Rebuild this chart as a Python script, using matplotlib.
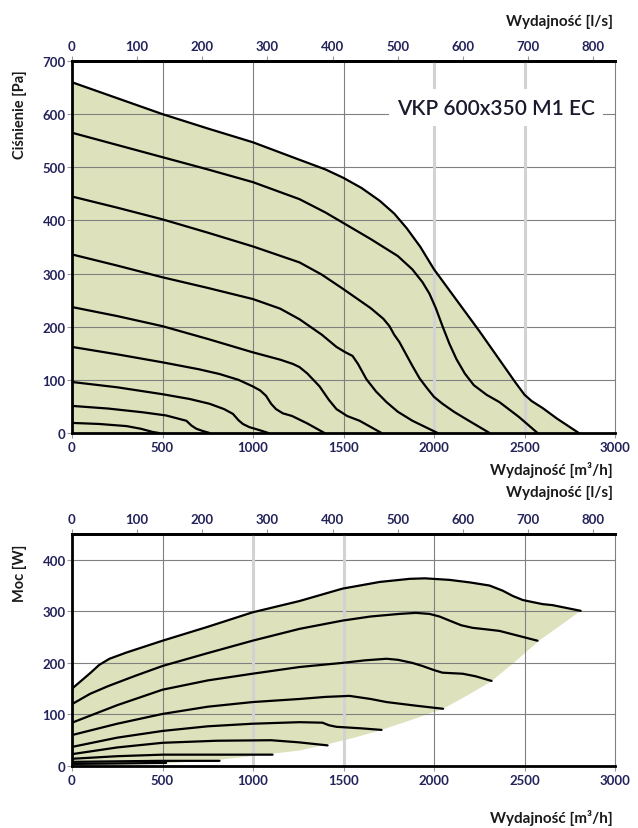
import matplotlib
matplotlib.use('Agg')
import matplotlib.pyplot as plt

plt.rcParams['font.family'] = ['Lato', 'DejaVu Sans']

# --- pressure curves [Pa] vs airflow [m3/h], top to bottom
p1_x = [0, 250, 500, 750, 1000, 1250, 1400, 1500, 1600, 1700, 1780, 1850, 1925, 2000,
        2250, 2450, 2500, 2540, 2600, 2680, 2800]
p1_y = [660, 630, 600, 573, 547, 515, 496, 480, 461, 437, 413, 385, 350, 308,
        192, 95, 72, 60, 47, 27, 0]
p2_x = [0, 250, 500, 750, 1000, 1257, 1400, 1500, 1650, 1800, 1880, 1936, 1975, 2010,
        2047, 2085, 2124, 2170, 2220, 2290, 2362, 2470, 2572]
p2_y = [565, 542, 519, 496, 472, 440, 415, 395, 365, 333, 308, 284, 262, 235,
        201, 168, 139, 112, 90, 72, 58, 30, 0]
p3_x = [0, 250, 500, 750, 1000, 1257, 1380, 1494, 1650, 1720, 1754, 1780, 1809, 1881,
        1920, 1960, 2000, 2047, 2110, 2178, 2307]
p3_y = [445, 424, 402, 377, 351, 321, 298, 272, 235, 215, 201, 185, 171, 126,
        103, 85, 68, 55, 40, 26, 0]
p4_x = [0, 250, 500, 750, 1000, 1150, 1257, 1380, 1461, 1510, 1550, 1580, 1627, 1680,
        1738, 1800, 1881, 2020]
p4_y = [336, 315, 293, 273, 252, 234, 214, 185, 162, 152, 145, 130, 101, 78,
        58, 40, 23, 0]
p5_x = [0, 250, 500, 750, 997, 1150, 1220, 1257, 1300, 1367, 1420, 1461, 1520, 1589, 1710]
p5_y = [237, 220, 201, 177, 152, 138, 130, 124, 112, 88, 62, 45, 32, 23, 0]
p6_x = [0, 250, 500, 700, 815, 920, 997, 1040, 1072, 1100, 1127, 1165, 1216, 1300, 1395]
p6_y = [162, 148, 133, 120, 111, 100, 88, 80, 70, 55, 45, 37, 32, 18, 0]
p7_x = [0, 250, 500, 650, 760, 840, 889, 920, 944, 980, 1030, 1085]
p7_y = [96, 86, 73, 64, 55, 45, 36, 24, 17, 11, 6, 0]
p8_x = [0, 200, 390, 520, 632, 660, 687, 720, 760]
p8_y = [51, 46, 39, 33, 23, 14, 8, 4, 0]
p9_x = [0, 150, 301, 380, 445, 480]
p9_y = [19, 17, 13, 8, 2, 0]

# --- power curves [W] vs airflow [m3/h], top to bottom
w1_x = [0, 50, 100, 150, 207, 300, 500, 750, 997, 1257, 1494, 1700, 1865, 1950, 2086,
        2200, 2307, 2380, 2434, 2490, 2544, 2600, 2655, 2810]
w1_y = [150, 165, 180, 196, 208, 220, 243, 270, 298, 320, 344, 357, 363, 364, 361,
        356, 350, 340, 330, 322, 318, 314, 312, 301]
w2_x = [0, 100, 200, 350, 500, 750, 997, 1257, 1494, 1650, 1809, 1900, 1975, 2030, 2086,
        2150, 2213, 2290, 2362, 2572]
w2_y = [120, 140, 155, 175, 194, 219, 243, 266, 282, 290, 295, 297, 295, 290, 282,
        273, 268, 265, 262, 243]
w3_x = [0, 250, 500, 750, 997, 1257, 1494, 1620, 1738, 1800, 1880, 1936, 2000, 2047,
        2100, 2158, 2230, 2318]
w3_y = [84, 118, 148, 166, 179, 192, 200, 205, 208, 206, 200, 194, 186, 181,
        180, 179, 174, 165]
w4_x = [0, 250, 500, 750, 997, 1257, 1400, 1533, 1650, 1738, 1900, 2050]
w4_y = [60, 82, 101, 115, 124, 130, 134, 136, 130, 124, 117, 111]
w5_x = [0, 250, 500, 750, 997, 1257, 1384, 1420, 1461, 1600, 1710]
w5_y = [37, 55, 68, 77, 82, 85, 84, 79, 76, 73, 70]
w6_x = [0, 250, 500, 800, 1100, 1250, 1412]
w6_y = [23, 36, 45, 49, 50, 46, 40]
w7_x = [0, 250, 500, 800, 1108]
w7_y = [14, 19, 22, 22, 22]
w8_x = [0, 483, 815]
w8_y = [8, 10, 10]
w9_x = [0, 520]
w9_y = [4, 6]
# lower edge of shaded power area
wb_x = [0, 250, 520, 815, 1110, 1257, 1410, 1560, 1710, 1880, 2050, 2200, 2320, 2450,
        2580, 2700, 2810]
wb_y = [0, 2, 5, 12, 24, 30, 42, 55, 70, 90, 111, 140, 165, 203, 243, 273, 301]

p_curves = [(p1_x, p1_y), (p2_x, p2_y), (p3_x, p3_y), (p4_x, p4_y), (p5_x, p5_y),
            (p6_x, p6_y), (p7_x, p7_y), (p8_x, p8_y), (p9_x, p9_y)]
w_curves = [(w1_x, w1_y), (w2_x, w2_y), (w3_x, w3_y), (w4_x, w4_y), (w5_x, w5_y),
            (w6_x, w6_y), (w7_x, w7_y), (w8_x, w8_y), (w9_x, w9_y)]

fill_c = '#dde2bd'
tick_c = '#23235a'
lab_c = '#1a1a1a'
dark_grid = '#808080'
light_grid = '#d2d2d2'


def style_axes(ax, ymax, ytop, light_x):
    ax.set_xlim(0, 3000)
    ax.set_ylim(0, ymax)
    ax.set_xticks(range(0, 3001, 500))
    ax.set_yticks(range(0, ytop + 1, 100))
    for v in range(100, ymax, 100):
        ax.axhline(v, color=dark_grid, lw=0.8, zorder=2)
    for v in range(500, 3000, 500):
        if v in light_x:
            ax.axvline(v, color=light_grid, lw=2.2, zorder=2)
        else:
            ax.axvline(v, color=dark_grid, lw=0.8, zorder=2)
    for s in ['left', 'bottom', 'top']:
        ax.spines[s].set_linewidth(2)
        ax.spines[s].set_color('black')
    ax.spines['right'].set_color(dark_grid)
    ax.spines['right'].set_linewidth(0.8)
    ax.tick_params(axis='both', direction='out', length=3.5, width=0.8, color='#999999',
                   labelsize=9.5, labelcolor=tick_c, pad=2)
    ax.tick_params(axis='y', pad=1)
    for lab in ax.get_xticklabels() + ax.get_yticklabels():
        lab.set_fontweight('bold')
    sec = ax.secondary_xaxis('top', functions=(lambda q: q / 3.6, lambda q: q * 3.6))
    sec.set_xticks(range(0, 801, 100))
    sec.tick_params(direction='out', length=3.5, width=0.8, color='#999999',
                    labelsize=9.5, labelcolor=tick_c, pad=3)
    sec.spines['top'].set_linewidth(2)
    for lab in sec.get_xticklabels():
        lab.set_fontweight('bold')
    return sec


fig = plt.figure(figsize=(6.38, 8.29), dpi=100)
ax1 = fig.add_axes([72 / 638, 1 - 434 / 829, 543 / 638, 372 / 829])
ax2 = fig.add_axes([72 / 638, 1 - 767 / 829, 543 / 638, 232 / 829])

# top chart: pressure
style_axes(ax1, 700, 700, [2000, 2500])
ax1.fill_between(p1_x, p1_y, 0, color=fill_c, lw=0, zorder=1)
for cx, cy in p_curves:
    ax1.plot(cx, cy, color='black', lw=1.6, zorder=3,
             solid_capstyle='round', solid_joinstyle='round')
ax1.text(2342, 612, 'VKP 600x350 M1 EC', ha='center', va='center', fontsize=15,
         fontweight='semibold', color='#1a1a2e', zorder=5,
         bbox=dict(facecolor='white', edgecolor='none', pad=6))

# bottom chart: power
style_axes(ax2, 450, 400, [1000, 1500])
ax2.fill(w1_x + wb_x[::-1], w1_y + wb_y[::-1], color=fill_c, lw=0, zorder=1)
for cx, cy in w_curves:
    ax2.plot(cx, cy, color='black', lw=1.6, zorder=3,
             solid_capstyle='round', solid_joinstyle='round')

# labels
fig.text(613 / 638, 1 - 22 / 829, 'Wydajność [l/s]', ha='right', va='center',
         fontsize=11, fontweight='bold', color=lab_c)
fig.text(613 / 638, 1 - 470 / 829, 'Wydajność [m³/h]', ha='right', va='center',
         fontsize=11, fontweight='bold', color=lab_c)
fig.text(613 / 638, 1 - 493 / 829, 'Wydajność [l/s]', ha='right', va='center',
         fontsize=11, fontweight='bold', color=lab_c)
fig.text(613 / 638, 1 - 818 / 829, 'Wydajność [m³/h]', ha='right', va='center',
         fontsize=11, fontweight='bold', color=lab_c)
fig.text(20 / 638, 1 - 115 / 829, 'Ciśnienie [Pa]', ha='center', va='center',
         rotation=90, fontsize=10.5, fontweight='bold', color=lab_c)
fig.text(20 / 638, 1 - 573 / 829, 'Moc [W]', ha='center', va='center',
         rotation=90, fontsize=10.5, fontweight='bold', color=lab_c)

fig.savefig('out.png', dpi=100)
